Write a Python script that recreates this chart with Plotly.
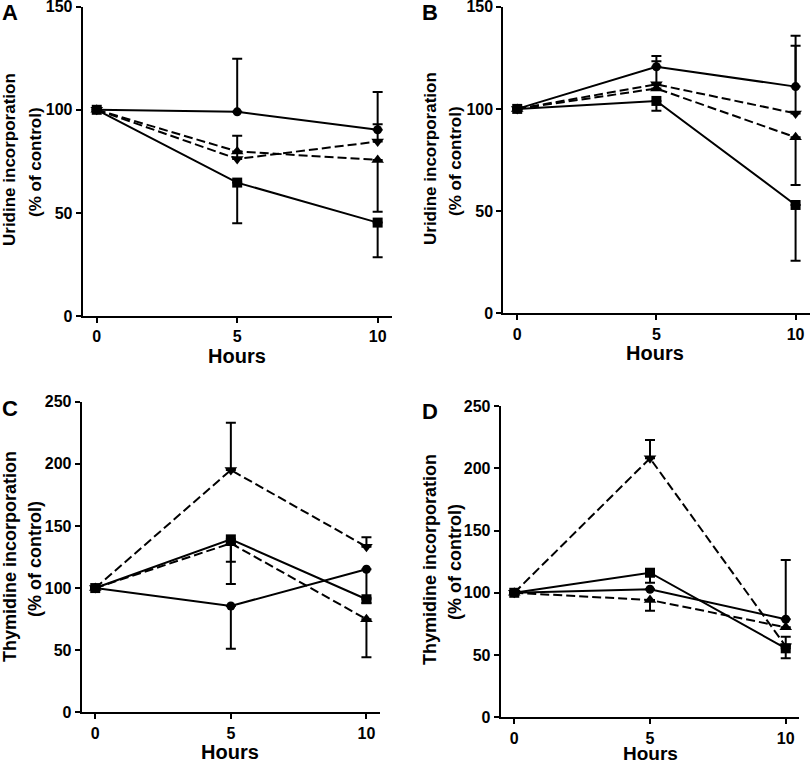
import plotly.graph_objects as go

W, H = 810, 763
hours = [0, 5, 10]

# Panel A - Uridine
A_circle = [100, 99.0, 90.3];   A_circle_up = [0, 25.8, 18.3]
A_square = [100, 64.7, 45.3];   A_square_dn = [0, 19.7, 16.8]
A_tri_up = [100, 79.8, 75.7];   A_tri_up_dn = [0, 0, 25.1]
A_tri_dn = [100, 76.2, 84.6];   A_tri_dn_up = [0, 11.2, 8.4]

# Panel B - Uridine
B_circle = [100, 120.6, 110.9]; B_circle_up = [0, 5.3, 24.9]
B_square = [100, 103.9, 53.0];  B_square_dn = [0, 4.8, 27.3]
B_tri_up = [100, 110.0, 86.1];  B_tri_up_dn = [0, 0, 23.3]
B_tri_dn = [100, 112.0, 97.8];  B_tri_dn_up = [0, 11.3, 33.1]

# Panel C - Thymidine
C_circle = [100, 85.6, 115.1];  C_circle_dn = [0, 34.4, 23.0]
C_square = [100, 139.2, 91.0];  C_square_dn = [0, 18.0, 3.0]
C_tri_up = [100, 136.0, 74.9];  C_tri_up_dn = [0, 32.7, 30.6]
C_tri_dn = [100, 195.0, 133.3]; C_tri_dn_up = [0, 38.1, 7.6]

# Panel D - Thymidine
D_circle = [100, 102.8, 78.7];  D_circle_up = [0, 0, 47.6]
D_square = [100, 116.1, 55.4];  D_square_dn = [0, 8.0, 8.0]
D_tri_up = [100, 94.2, 72.3];   D_tri_up_dn = [0, 8.6, 0]
D_tri_dn = [100, 208.0, 57.0];  D_tri_dn_up = [0, 14.7, 7.7]

y_ticks_uridine = [0, 50, 100, 150]
y_ticks_thymidine = [0, 50, 100, 150, 200, 250]
x_ticks = [0, 5, 10]

FONT = "Liberation Sans, Arial, sans-serif"

def px(x):
    return x / W

def py(y):
    return 1 - y / H

fig = go.Figure()

SIZES = {"circle": 9, "square": 10, "triangle-up": 11, "triangle-down": 11}

def add_series(xa, ya, y, up, dn, symbol, dash):
    fig.add_trace(go.Scatter(
        x=hours, y=y, xaxis=xa, yaxis=ya, mode="lines+markers",
        line=dict(color="black", width=2, dash=dash),
        marker=dict(symbol=symbol, size=SIZES[symbol], color="black"),
        error_y=dict(type="data", symmetric=False, array=up, arrayminus=dn,
                     color="black", thickness=2, width=5),
        showlegend=False, hoverinfo="skip", cliponaxis=False))

zeros = [0, 0, 0]
DASH = "9px,4px"
# A
add_series("x", "y", A_tri_up, zeros, A_tri_up_dn, "triangle-up", DASH)
add_series("x", "y", A_tri_dn, A_tri_dn_up, zeros, "triangle-down", DASH)
add_series("x", "y", A_circle, A_circle_up, zeros, "circle", "solid")
add_series("x", "y", A_square, zeros, A_square_dn, "square", "solid")
# B
add_series("x2", "y2", B_tri_up, zeros, B_tri_up_dn, "triangle-up", DASH)
add_series("x2", "y2", B_tri_dn, B_tri_dn_up, zeros, "triangle-down", DASH)
add_series("x2", "y2", B_circle, B_circle_up, zeros, "circle", "solid")
add_series("x2", "y2", B_square, zeros, B_square_dn, "square", "solid")
# C
add_series("x3", "y3", C_tri_up, zeros, C_tri_up_dn, "triangle-up", DASH)
add_series("x3", "y3", C_tri_dn, C_tri_dn_up, zeros, "triangle-down", DASH)
add_series("x3", "y3", C_circle, zeros, C_circle_dn, "circle", "solid")
add_series("x3", "y3", C_square, zeros, C_square_dn, "square", "solid")
# D
add_series("x4", "y4", D_tri_up, zeros, D_tri_up_dn, "triangle-up", DASH)
add_series("x4", "y4", D_tri_dn, D_tri_dn_up, zeros, "triangle-down", DASH)
add_series("x4", "y4", D_circle, D_circle_up, zeros, "circle", "solid")
add_series("x4", "y4", D_square, zeros, D_square_dn, "square", "solid")

tickfont = dict(family=FONT, size=16, color="black", weight="bold")

def xaxis(domain, anchor):
    return dict(domain=domain, anchor=anchor, range=[-0.5, 10.5], automargin=False,
                tickvals=x_ticks, showline=True, linecolor="black", linewidth=2,
                ticks="outside", ticklen=5, tickwidth=2, tickcolor="black",
                ticklabeloverflow="allow",
                showgrid=False, zeroline=False, tickfont=tickfont)

def yaxis(domain, anchor, rng, tv):
    return dict(domain=domain, anchor=anchor, range=rng, tickvals=tv, automargin=False,
                showline=True, linecolor="black", linewidth=2,
                ticks="outside", ticklen=5, tickwidth=2, tickcolor="black",
                ticklabeloverflow="allow",
                showgrid=False, zeroline=False, tickfont=tickfont)

fig.update_layout(
    template="none",
    width=W, height=H, margin=dict(l=0, r=0, t=0, b=0, autoexpand=False),
    paper_bgcolor="white", plot_bgcolor="white",
    xaxis=xaxis([px(82.7), px(391.7)], "y"),
    yaxis=yaxis([py(316), py(6.7)], "x", [0, 150], y_ticks_uridine),
    xaxis2=xaxis([px(503.3), px(809.5)], "y2"),
    yaxis2=yaxis([py(313.3), py(6.7)], "x2", [0, 150], y_ticks_uridine),
    xaxis3=xaxis([px(81.7), px(380)], "y3"),
    yaxis3=yaxis([py(712.3), py(401.7)], "x3", [0, 250], y_ticks_thymidine),
    xaxis4=xaxis([px(500.7), px(799.3)], "y4"),
    yaxis4=yaxis([py(717.3), py(406)], "x4", [0, 250], y_ticks_thymidine),
)

def ann(text, x, y, size, angle=0):
    fig.add_annotation(text=text, x=px(x), y=py(y), xref="paper", yref="paper",
                       showarrow=False, textangle=angle, xanchor="center", yanchor="middle",
                       font=dict(family=FONT, size=size, color="black", weight="bold"))

# panel letters
ann("A", 10, 13, 22)
ann("B", 430, 13, 22)
ann("C", 10, 408, 22)
ann("D", 430, 412, 22)

# y titles
ann("Uridine incorporation", 9, 160, 17, -90)
ann("(% of control)", 36, 162, 17, -90)
ann("Uridine incorporation", 430, 159, 17, -90)
ann("(% of control)", 455, 161, 17, -90)
ann("Thymidine incorporation", 10, 557, 18, -90)
ann("(% of control)", 35, 559, 18, -90)
ann("Thymidine incorporation", 430, 560, 18, -90)
ann("(% of control)", 455, 562, 18, -90)

# x titles
ann("Hours", 237, 356, 20)
ann("Hours", 655, 353, 20)
ann("Hours", 230, 752, 20)
ann("Hours", 650, 753, 19)

fig.write_html("out.html", config={"displayModeBar": False},
               post_script="document.body.style.margin='0px';document.body.style.overflow='hidden';")
